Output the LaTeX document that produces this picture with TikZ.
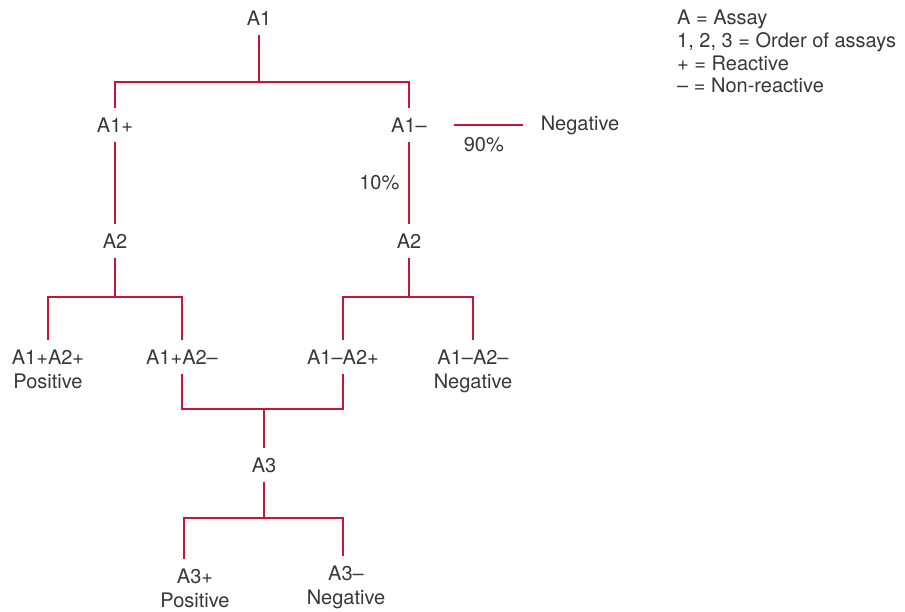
\documentclass[tikz,border=0pt]{standalone}
\usepackage{fontspec}
\setmainfont{TeX Gyre Heros}
\definecolor{branchred}{RGB}{200,20,55}
\definecolor{labelgrey}{RGB}{55,55,55}
\tikzstyle{assay} = [inner sep=0pt, outer sep=10pt, text=labelgrey, font=\fontsize{20}{24}\selectfont, align=center]
\tikzstyle{share} = [inner sep=0pt, text=labelgrey, font=\fontsize{20}{24}\selectfont]
\tikzstyle{branch} = [draw=branchred, line width=1.3pt]

\begin{document}
\begin{tikzpicture}[x=1pt,y=-1pt]
\useasboundingbox (0,0) rectangle (905,612);

% first assay
\node (a1) [assay] at (259,18) {A1};
\node (a1pos) [assay] at (115,125) {A1+};
\node (a1neg) [assay] at (409,125) {A1--};
\node (neg1) [assay] at (580,125) {Negative};

% second assay
\node (a2left) [assay] at (115,241) {A2};
\node (a2right) [assay] at (409,241) {A2};
\node (pospos) [assay, anchor=north] at (48,340) {A1+A2+\\Positive};
\node (posneg) [assay] at (182,357) {A1+A2--};
\node (negpos) [assay] at (343,357) {A1--A2+};
\node (negneg) [assay, anchor=north] at (473,340) {A1--A2--\\Negative};

% third assay
\node (a3) [assay] at (264,465) {A3};
\node (a3pos) [assay, anchor=north] at (195,559) {A3+\\Positive};
\node (a3neg) [assay, anchor=north] at (346,556) {A3--\\Negative};

\node (legend) [share, anchor=north west, align=left, font=\fontsize{20}{22.7}\selectfont] at (677,10) {A = Assay\\1, 2, 3 = Order of assays\\+ = Reactive\\-- = Non-reactive};

\coordinate (j1) at (259,82);
\coordinate (j2) at (115,297);
\coordinate (j3) at (409,297);
\coordinate (j4) at (264,409);
\coordinate (j5) at (264,518);

\draw [branch] (a1) -- (j1) -| (a1pos);
\draw [branch] (j1) -| (a1neg);
\draw [branch] (a1pos) -- (a2left);
\draw [branch] (a1neg) -- node [share, left=9pt] {10\%} (a2right);
\draw [branch, shorten <=17pt, shorten >=8pt] (a1neg) -- node [share, below=12pt] {90\%} (neg1);

\draw [branch] (a2left) -- (j2) -| (pospos);
\draw [branch] (j2) -| (posneg);
\draw [branch] (a2right) -- (j3) -| (negpos);
\draw [branch] (j3) -| (negneg);

\draw [branch] (posneg) |- (j4) -| (negpos);
\draw [branch] (j4) -- (a3);
\draw [branch] (a3) -- (j5) -| ([xshift=-11pt]a3pos.north);
\draw [branch] (j5) -| ([xshift=-3pt]a3neg.north);

\end{tikzpicture}
\end{document}
